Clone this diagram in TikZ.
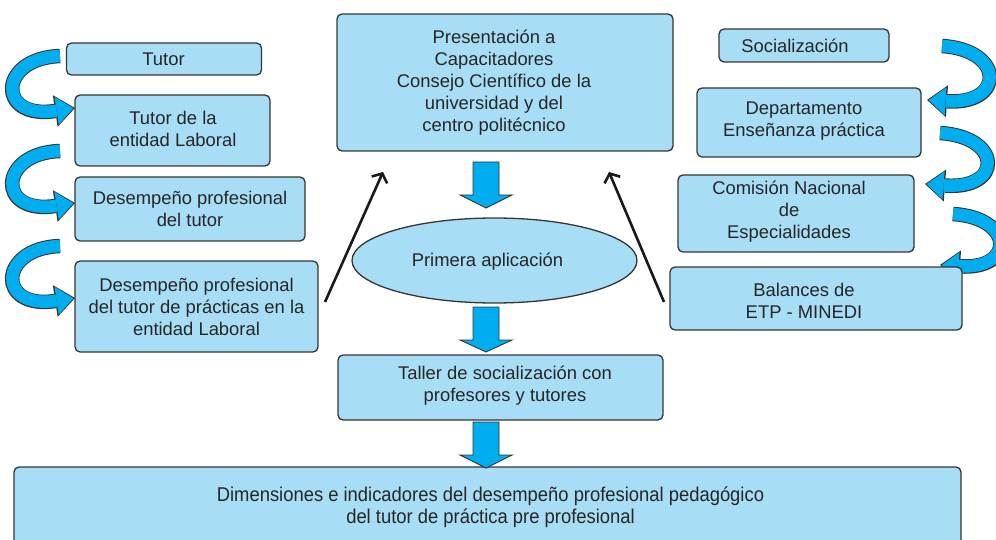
\documentclass[tikz,border=0pt]{standalone}
\usepackage{fontspec}
\setmainfont{Liberation Sans}
\usetikzlibrary{arrows.meta,shapes.geometric}
\definecolor{boxfill}{HTML}{A8DDF6}
\definecolor{arrcyan}{HTML}{00AEEF}
\definecolor{edge}{HTML}{353535}
\definecolor{txt}{HTML}{262626}
\begin{document}
\begin{tikzpicture}[x=1pt,y=-1pt,
  box/.style={draw=edge, line width=1.3pt, fill=boxfill, rounded corners=5pt, inner sep=0pt},
  tx/.style={text=txt, align=center, font=\fontsize{18.4}{22}\selectfont, inner sep=0pt},
  ell/.style={ellipse, draw=edge, line width=1.3pt, fill=boxfill, inner sep=0pt},
  barrow/.style={draw=edge, line width=0.9pt, fill=arrcyan, line join=miter},
  cout/.style={draw=edge, line width=14.5pt, -{Triangle[length=20pt,width=32pt,line width=0pt]}},
  cin/.style={draw=arrcyan, line width=12.5pt, shorten >=1.6pt, -{Triangle[length=17pt,width=28pt,line width=0pt]}},
  thinarrow/.style={draw=black!90, line width=2.6pt, -{Straight Barb[length=7pt,width=17pt]}}
]
\useasboundingbox (0,0) rectangle (996,540);

% curved ribbon arrows, left side
\foreach \dy in {0,95,190}{
  \draw[cout] (60,56+\dy) .. controls (-2,58+\dy) and (-4,120+\dy) .. (75,108+\dy);
  \draw[cin]  (60,56+\dy) .. controls (-2,58+\dy) and (-4,120+\dy) .. (75,108+\dy);
}
% curved ribbon arrows, right side
\draw[cout] (942,46) .. controls (1005,50) and (1005,105) .. (927,100);
\draw[cin]  (942,46) .. controls (1005,50) and (1005,105) .. (927,100);
\draw[cout] (940,133) .. controls (1003,137) and (1003,190) .. (925,184);
\draw[cin]  (940,133) .. controls (1003,137) and (1003,190) .. (925,184);
\draw[cout] (953,214) .. controls (1015,218) and (1015,270) .. (940,265);
\draw[cin]  (953,214) .. controls (1015,218) and (1015,270) .. (940,265);

% left boxes
\node[box, minimum width=195pt, minimum height=32pt] (tutor) at (164,59) {};
\node[tx] (tutor-t) at (163.5,59) {Tutor};
\node[box, minimum width=195pt, minimum height=71pt] (tutorent) at (172.5,130.5) {};
\node[tx] (tutorent-t) at (173,129) {Tutor de la\\entidad Laboral};
\node[box, minimum width=230pt, minimum height=64pt] (desemp) at (190,209) {};
\node[tx] (desemp-t) at (190,209) {Desempeño profesional\\del tutor};
\node[box, minimum width=243pt, minimum height=91pt] (desempprac) at (196.5,306.5) {};
\node[tx] (desempprac-t) at (196.5,307) {Desempeño profesional\\del tutor de prácticas en la\\entidad Laboral};

% centre
\node[box, minimum width=336pt, minimum height=137pt] (pres) at (505,82.5) {};
\node[tx] (pres-t) at (494,82.5) {Presentación a\\Capacitadores\\Consejo Científico de la\\universidad y del\\centro politécnico};
\node[ell, minimum width=285pt, minimum height=85pt] (prim) at (494.5,260.5) {};
\node[tx] (prim-t) at (487.5,262) {Primera aplicación};
\node[box, minimum width=325pt, minimum height=65pt] (taller) at (500.5,387.5) {};
\node[tx] (taller-t) at (505,386) {Taller de socialización con\\profesores y tutores};
\node[box, minimum width=947pt, minimum height=84pt] (dim) at (487.5,509) {};
\node[tx, font=\fontsize{20}{22}\selectfont] (dim-t) at (490.5,507) {\scalebox{0.92}[1]{Dimensiones e indicadores del desempeño profesional pedagógico}\\\scalebox{0.92}[1]{del tutor de práctica pre profesional}};

% right boxes
\node[box, minimum width=170pt, minimum height=33pt] (soc) at (804,45.5) {};
\node[tx] (soc-t) at (795,45.5) {Socialización};
\node[box, minimum width=224pt, minimum height=69pt] (dep) at (809,122.5) {};
\node[tx] (dep-t) at (804,121) {Departamento\\Enseñanza práctica};
\node[box, minimum width=236pt, minimum height=77pt] (com) at (796,213.5) {};
\node[tx] (com-t) at (789,212) {Comisión Nacional\\de\\Especialidades};
\node[box, minimum width=292pt, minimum height=63pt] (bal) at (816,298.5) {};
\node[tx] (bal-t) at (804,301) {Balances de\\ETP - MINEDI};

% block arrows
\newcommand\blockarrow[4]{%
  \filldraw[barrow] (#1-13,#2) -- (#1+13,#2) -- (#1+13,#3) -- (#1+26,#3) -- (#1,#4) -- (#1-26,#3) -- (#1-13,#3) -- cycle;}
\blockarrow{486}{162}{195}{208}
\blockarrow{486}{307}{340}{352}
\blockarrow{486}{422}{455}{468}

% thin arrows
\coordinate (la1) at (325,302);
\coordinate (la2) at (383,172);
\coordinate (ra1) at (664,302);
\coordinate (ra2) at (609,172);
\draw[thinarrow] (la1) -- (la2);
\draw[thinarrow] (ra1) -- (ra2);
\end{tikzpicture}
\end{document}
